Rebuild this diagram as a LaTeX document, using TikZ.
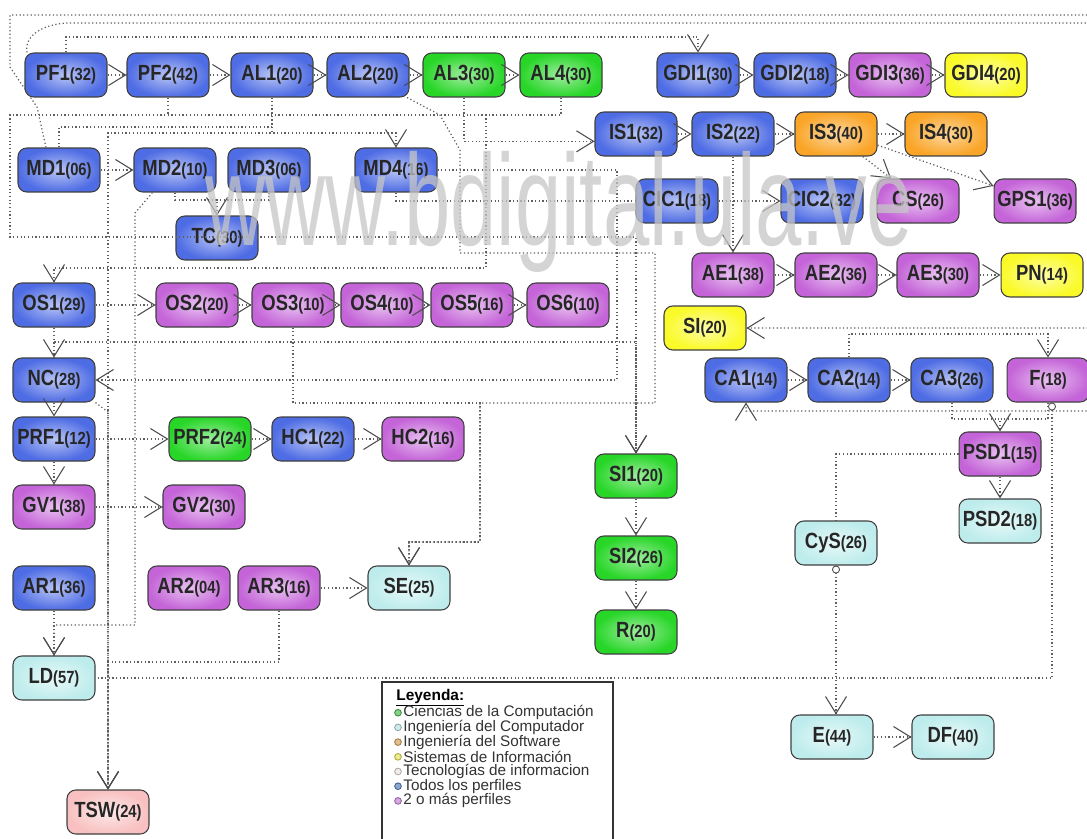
\documentclass[tikz,border=0pt]{standalone}
\usepackage{fontspec}
\setmainfont{Liberation Sans}
\newfontfamily\crsfont[FakeStretch=0.84]{Liberation Sans}
\newfontfamily\wmfont[FakeStretch=0.64]{Liberation Sans}
\usetikzlibrary{arrows.meta,decorations.markings}

\definecolor{cblue}{RGB}{78,108,228}
\definecolor{cgreen}{RGB}{40,214,40}
\definecolor{cpurple}{RGB}{196,100,216}
\definecolor{cyellow}{RGB}{250,250,40}
\definecolor{corange}{RGB}{250,165,40}
\definecolor{ccyan}{RGB}{190,236,236}
\definecolor{cpink}{RGB}{248,192,192}
\definecolor{linkgray}{RGB}{95,95,95}
% legend markers
\definecolor{mgreen}{RGB}{80,190,80}
\definecolor{mcyan}{RGB}{190,225,225}
\definecolor{morange}{RGB}{215,165,90}
\definecolor{myellow}{RGB}{230,230,90}
\definecolor{mlight}{RGB}{235,230,225}
\definecolor{mblue}{RGB}{90,130,190}
\definecolor{mpurple}{RGB}{200,130,215}

\newcommand{\crs}[2]{{\fontsize{12.5}{14}\selectfont #1}{\fontsize{10}{12}\selectfont(#2)}}

\tikzset{
  course/.style={draw=black!75, line width=0.6pt, rounded corners=5pt,
    minimum width=1.64cm, minimum height=0.88cm, inner sep=1pt,
    font=\crsfont\bfseries, text=black!85},
  todos/.style={course, inner color=cblue!40!white, outer color=cblue},
  cienc/.style={course, inner color=cgreen!45!white, outer color=cgreen},
  varios/.style={course, inner color=cpurple!40!white, outer color=cpurple},
  sistinf/.style={course, inner color=cyellow!40!white, outer color=cyellow},
  ingsw/.style={course, inner color=corange!45!white, outer color=corange},
  ingcomp/.style={course, inner color=ccyan!35!white, outer color=ccyan},
  tecinf/.style={course, inner color=cpink!35!white, outer color=cpink},
  Vtip/.tip={Straight Barb[length=3.4mm,width=4.2mm,line width=0.6pt,color=black!70]},
  Otip/.tip={Circle[open,length=1.6mm,width=1.6mm,fill=white,line width=0.5pt,color=black!70]},
  link/.style={draw=linkgray, line width=0.7pt, dash pattern=on 0.7pt off 1.4pt},
  tipend/.style={postaction={decorate, decoration={markings,
    mark=at position 1 with {\pgfsetdash{}{0pt}\arrow{Vtip}}}}},
  tipstart/.style={postaction={decorate, decoration={markings,
    mark=at position 0 with {\pgfsetdash{}{0pt}\arrowreversed{Otip}}}}},
  arr/.style={link, tipend},
  oarr/.style={link, tipstart, tipend},
  olink/.style={link, tipstart}
}

\begin{document}
\begin{tikzpicture}[x=0.02cm, y=-0.02cm]
  \fill[white] (0,0) rectangle (1087,838);
  \useasboundingbox (0,0) rectangle (1087,838);

  % Nodes
  \node[todos] (PF1) at (66,75) {\crs{PF1}{32}};
  \node[todos] (PF2) at (168,75) {\crs{PF2}{42}};
  \node[todos] (AL1) at (272,75) {\crs{AL1}{20}};
  \node[todos] (AL2) at (368,75) {\crs{AL2}{20}};
  \node[cienc] (AL3) at (464,75) {\crs{AL3}{30}};
  \node[cienc] (AL4) at (561,75) {\crs{AL4}{30}};
  \node[todos] (GDI1) at (698,75) {\crs{GDI1}{30}};
  \node[todos] (GDI2) at (795,75) {\crs{GDI2}{18}};
  \node[varios] (GDI3) at (890,75) {\crs{GDI3}{36}};
  \node[sistinf] (GDI4) at (986,75) {\crs{GDI4}{20}};

  \node[todos] (IS1) at (636,134) {\crs{IS1}{32}};
  \node[todos] (IS2) at (733,134) {\crs{IS2}{22}};
  \node[ingsw] (IS3) at (836,134) {\crs{IS3}{40}};
  \node[ingsw] (IS4) at (946,134) {\crs{IS4}{30}};

  \node[todos] (MD1) at (59,170) {\crs{MD1}{06}};
  \node[todos] (MD2) at (175,170) {\crs{MD2}{10}};
  \node[todos] (MD3) at (269,170) {\crs{MD3}{06}};
  \node[todos] (MD4) at (396,170) {\crs{MD4}{16}};
  \node[todos] (TC) at (217,238) {\crs{TC}{30}};

  \node[todos] (CIC1) at (677,201) {\crs{CIC1}{18}};
  \node[todos] (CIC2) at (822,201) {\crs{CIC2}{32}};
  \node[varios] (CS) at (918,201) {\crs{CS}{26}};
  \node[varios] (GPS1) at (1035,201) {\crs{GPS1}{36}};

  \node[varios] (AE1) at (733,275) {\crs{AE1}{38}};
  \node[varios] (AE2) at (836,275) {\crs{AE2}{36}};
  \node[varios] (AE3) at (938,275) {\crs{AE3}{30}};
  \node[sistinf] (PN) at (1042,275) {\crs{PN}{14}};
  \node[sistinf] (SI) at (705,328) {\crs{SI}{20}};

  \node[todos] (OS1) at (54,305) {\crs{OS1}{29}};
  \node[varios] (OS2) at (197,305) {\crs{OS2}{20}};
  \node[varios] (OS3) at (293,305) {\crs{OS3}{10}};
  \node[varios] (OS4) at (382,305) {\crs{OS4}{10}};
  \node[varios] (OS5) at (472,305) {\crs{OS5}{16}};
  \node[varios] (OS6) at (568,305) {\crs{OS6}{10}};

  \node[todos] (CA1) at (746,380) {\crs{CA1}{14}};
  \node[todos] (CA2) at (849,380) {\crs{CA2}{14}};
  \node[todos] (CA3) at (952,380) {\crs{CA3}{26}};
  \node[varios] (F) at (1048,380) {\crs{F}{18}};
  \node[varios] (PSD1) at (1000,454) {\crs{PSD1}{15}};
  \node[ingcomp] (PSD2) at (1000,521) {\crs{PSD2}{18}};
  \node[ingcomp] (CyS) at (836,543) {\crs{CyS}{26}};
  \node[ingcomp] (E) at (832,737) {\crs{E}{44}};
  \node[ingcomp] (DF) at (953,737) {\crs{DF}{40}};

  \node[todos] (NC) at (54,380) {\crs{NC}{28}};
  \node[todos] (PRF1) at (54,439) {\crs{PRF1}{12}};
  \node[cienc] (PRF2) at (210,439) {\crs{PRF2}{24}};
  \node[todos] (HC1) at (313,439) {\crs{HC1}{22}};
  \node[varios] (HC2) at (423,439) {\crs{HC2}{16}};
  \node[varios] (GV1) at (54,507) {\crs{GV1}{38}};
  \node[varios] (GV2) at (204,507) {\crs{GV2}{30}};
  \node[todos] (AR1) at (54,588) {\crs{AR1}{36}};
  \node[varios] (AR2) at (189,588) {\crs{AR2}{04}};
  \node[varios] (AR3) at (279,588) {\crs{AR3}{16}};
  \node[ingcomp] (SE) at (409,588) {\crs{SE}{25}};
  \node[ingcomp] (LD) at (54,678) {\crs{LD}{57}};
  \node[tecinf] (TSW) at (108,812) {\crs{TSW}{24}};

  \node[cienc] (SI1) at (636,476) {\crs{SI1}{20}};
  \node[cienc] (SI2) at (636,558) {\crs{SI2}{26}};
  \node[cienc] (R) at (636,632) {\crs{R}{20}};

  % Arrows, rows
  \draw[arr] (PF1) -- (PF2);
  \draw[arr] (PF2) -- (AL1);
  \draw[arr] (AL1) -- (AL2);
  \draw[arr] (AL2) -- (AL3);
  \draw[arr] (AL3) -- (AL4);
  \draw[arr] (GDI1) -- (GDI2);
  \draw[arr] (GDI2) -- (GDI3);
  \draw[arr] (GDI3) -- (GDI4);
  \draw[arr] (IS1) -- (IS2);
  \draw[arr] (IS2) -- (IS3);
  \draw[arr] (IS3) -- (IS4);
  \draw[arr] (IS3.-40) -- (CS.140);
  \draw[arr] (IS3.-15) -- (GPS1.160);
  \draw[arr] (CIC1) -- (CIC2);
  \draw[arr] (IS2.south) -- (IS2.south |- AE1.north);
  \draw[arr] (AE1) -- (AE2);
  \draw[arr] (AE2) -- (AE3);
  \draw[arr] (AE3) -- (PN);
  \draw[arr] (CA1) -- (CA2);
  \draw[arr] (CA2) -- (CA3);
  \draw[arr] (PSD1) -- (PSD2);
  \draw[oarr] (CyS.south) -- (CyS.south |- E.north);
  \draw[arr] (E) -- (DF);
  \draw[arr] (MD1) -- (MD2);
  \draw[arr] (OS1) -- (OS2);
  \draw[arr] (OS2) -- (OS3);
  \draw[arr] (OS3) -- (OS4);
  \draw[arr] (OS4) -- (OS5);
  \draw[arr] (OS5) -- (OS6);
  \draw[arr] (OS1) -- (NC);
  \draw[arr] (NC) -- (PRF1);
  \draw[arr] (PRF1) -- (GV1);
  \draw[arr] (AR1) -- (LD);
  \draw[arr] (PRF1) -- (PRF2);
  \draw[arr] (PRF2) -- (HC1);
  \draw[arr] (HC1) -- (HC2);
  \draw[arr] (GV1) -- (GV2);
  \draw[arr] (AR3) -- (SE);
  \draw[arr] (SI1) -- (SI2);
  \draw[arr] (SI2) -- (R);

  % Arrows, long routes
  \draw[arr] (PF1.north) -- (66,37) -| (GDI1.north);
  \draw[arr] (MD1.120) -- (37,107) -- (10,67) -- (10,15) -- (1100,15) |- (SI.east);
  \draw[arr] (PF1.150) to[out=100,in=180] (70,23) -- (1100,23) |- (CA1.south |- 0,411) -- (CA1.south);
  \draw[link] (PF2.south) -- (PF2.south |- 0,115);
  \draw[arr] (AL4.south) |- (10,115) -- (10,237) -| (SI1.north);
  \draw[arr] (AL4.south) |- (486,115) -- (486,268) -| (OS1.north);
  \draw[link] (MD1.north) |- (272,127) -- (AL1.south);
  \draw[arr] (AL1.south) -- (272,133) -| (MD4.north);
  \draw[arr] (AL1.south) -- (272,133) -| (TSW.north);
  \draw[arr] (MD2.south) -- (175,200) -| (TC.north);
  \draw[link] (MD3.south) |- (TC.north |- 0,200);
  \draw[arr] (MD2.-135) -- (135,213) -- (135,625) -| (LD.north);
  \draw[arr] (MD4.east) -- (617,170) |- (NC.east);
  \draw[link] (MD4.south) |- (CIC1.west);
  \draw[arr] (AL3.south) |- (IS1.190);
  \draw[arr] (AL2.-30) -- (440,115) -- (460,150) -- (460,253) -- (655,253) -- (655,403) -- (480,403) -- (480,542) -| (SE.north);
  \draw[arr] (OS3.south) |- (480,403) -- (480,542) -| (SE.north);
  \draw[arr] (OS1.south) -- (54,342) -| (SI1.north);
  \draw[arr] (NC.south east) -- (108,412) -- (TSW.north);
  \draw[arr] (AR3.south) |- (TSW.north |- 0,662) -- (TSW.north);
  \draw[olink] (F.-80) |- (LD.east);
  \draw[arr] (CA2.north) |- (F.north |- 0,334) -- (F.north);
  \draw[arr] (CA3.south) |- (PSD1.north |- 0,419) -- (PSD1.north);
  \draw[link] (F.south) |- (PSD1.north |- 0,419);
  \draw[link] (PSD1.west) -| (CyS.north);

  % Legend
  \draw[black!80, line width=0.8pt, fill=white] (382,682) rectangle (613,850);
  \node[anchor=base west, inner sep=0pt, font=\fontsize{8.8}{10}\selectfont\bfseries] (legtitle) at (396,700) {\underline{Leyenda:}};
  \foreach \c/\t [count=\i] in {mgreen/Ciencias de la Computación, mcyan/Ingeniería del Computador,
      morange/Ingeniería del Software, myellow/Sistemas de Información,
      mlight/Tecnologías de informacion, mblue/Todos los perfiles, mpurple/2 o más perfiles} {
    \pgfmathsetmacro\yy{698+14.7*\i}
    \draw[\c!75!black, fill=\c!70!white, line width=0.5pt] (398,\yy) circle[radius=1.9pt];
    \node[anchor=west, inner sep=0pt, font=\fontsize{8.7}{10}\selectfont, text=black!80] (leg\i) at (403,\yy) {\t};
  }

  % Watermark
  \node[anchor=base west, inner sep=0pt, text=gray!45, opacity=0.75,
    font=\wmfont\fontsize{74}{80}\selectfont] (wm) at (205,245) {www.bdigital.ula.ve};
\end{tikzpicture}
\end{document}
